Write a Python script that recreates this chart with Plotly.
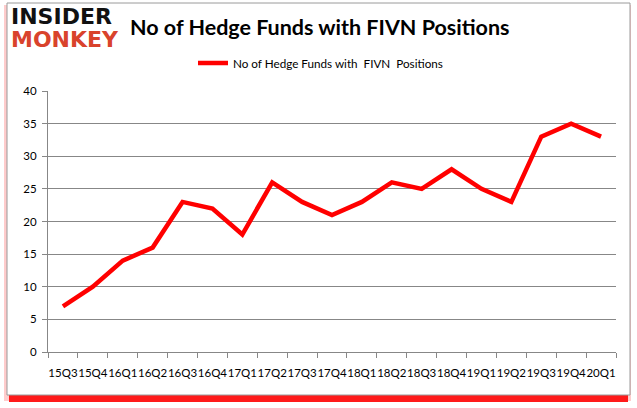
import plotly.graph_objects as go

quarters = ["15Q3", "15Q4", "16Q1", "16Q2", "16Q3", "16Q4", "17Q1", "17Q2", "17Q3", "17Q4",
            "18Q1", "18Q2", "18Q3", "18Q4", "19Q1", "19Q2", "19Q3", "19Q4", "20Q1"]
funds = [7, 10, 14, 16, 23, 22, 18, 26, 23, 21, 23, 26, 25, 28, 25, 23, 33, 35, 33]
series_name = "No of Hedge Funds with  FIVN  Positions"
y_ticks = [0, 5, 10, 15, 20, 25, 30, 35, 40]

W, H = 637, 408
L, R, T, B = 48, 21, 91, 56
PW, PH = W - L - R, H - T - B

def px(x):
    return (x - L) / PW

def py(y):
    return (H - B - y) / PH

FONT = "Lato"
GRID = "#878787"

fig = go.Figure()
fig.add_trace(go.Scatter(
    x=list(range(len(quarters))), y=funds, mode="lines", name=series_name,
    line=dict(color="#ff0000", width=4.5),
))

shapes = [
    dict(type="rect", xref="paper", yref="paper", layer="below",
         x0=px(4), x1=px(631), y0=py(401), y1=py(5),
         fillcolor="rgba(255,170,170,0.6)", line=dict(width=0)),
    dict(type="rect", xref="paper", yref="paper", layer="below",
         x0=px(9), x1=px(628), y0=py(402), y1=py(393),
         fillcolor="#ff1a1a", line=dict(width=0)),
    dict(type="rect", xref="paper", yref="paper", layer="below",
         x0=px(7), x1=px(630), y0=py(395), y1=py(3),
         fillcolor="white", line=dict(color="#9a9a9a", width=1)),
]

annotations = [
    dict(text="<b>INSIDER</b>", xref="paper", yref="paper", x=px(9), y=py(16),
         xanchor="left", yanchor="middle", showarrow=False,
         font=dict(family="DejaVu Sans", size=22, color="#111111")),
    dict(text="<b>MONKEY</b>", xref="paper", yref="paper", x=px(9), y=py(39),
         xanchor="left", yanchor="middle", showarrow=False,
         font=dict(family="DejaVu Sans", size=22, color="#d9432c")),
    dict(text="<b>No of Hedge Funds with FIVN Positions</b>", xref="paper", yref="paper",
         x=px(319), y=py(27), xanchor="center", yanchor="middle", showarrow=False,
         font=dict(family=FONT, size=21.5, color="#000000")),
]

fig.update_layout(
    width=W, height=H,
    margin=dict(l=L, r=R, t=T, b=B, autoexpand=False),
    paper_bgcolor="white", plot_bgcolor="rgba(0,0,0,0)",
    shapes=shapes, annotations=annotations,
    showlegend=True,
    legend=dict(orientation="h", x=px(193), y=py(63), xanchor="left", yanchor="middle",
                font=dict(family=FONT, size=11.7, color="#000000"),
                bgcolor="rgba(0,0,0,0)", itemwidth=30),
    xaxis=dict(range=[-0.5, len(quarters) - 0.5], tickmode="array",
               tickvals=list(range(len(quarters))), ticktext=quarters, tickangle=0,
               ticks="outside", ticklen=10, tickcolor="rgba(0,0,0,0)", automargin=False,
               showgrid=False, zeroline=False, showline=True, linecolor=GRID, linewidth=1,
               tickfont=dict(family=FONT, size=11.5, color="#000000"),
               minor=dict(tick0=-0.5, dtick=1, ticks="outside", ticklen=5,
                          tickcolor=GRID, showgrid=False),
               fixedrange=True),
    yaxis=dict(range=[0, 40], tickmode="array", tickvals=y_ticks, automargin=False,
               ticks="outside", ticklen=5, tickcolor=GRID, ticklabelstandoff=3,
               showgrid=True, gridcolor=GRID, gridwidth=1, zeroline=False,
               showline=True, linecolor=GRID, linewidth=1,
               tickfont=dict(family=FONT, size=11.5, color="#000000"),
               fixedrange=True),
)

fig.write_html("out.html", config={"displayModeBar": False},
               post_script="document.body.style.margin='0';document.body.style.overflow='hidden';")
